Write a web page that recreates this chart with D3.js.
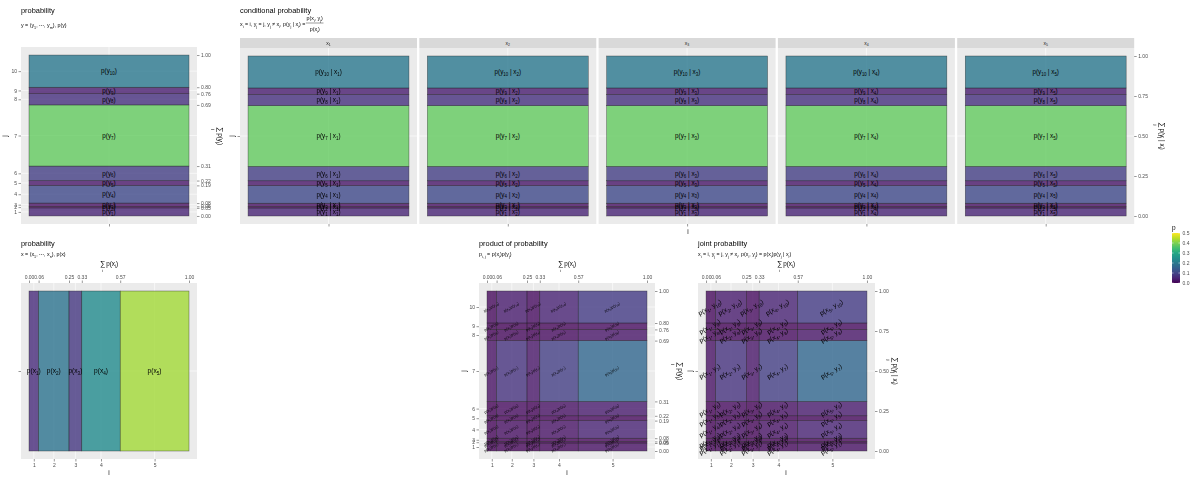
<!DOCTYPE html>
<html lang="en">
<head>
<meta charset="UTF-8" />
<title>probability decomposition</title>
<style>
  body { margin: 0; background: #fff; }
  svg { opacity: 0.999; }
  svg text { font-family: "Liberation Sans", Arial, sans-serif; }
</style>
</head>
<body>
<svg width="1200" height="480" xmlns="http://www.w3.org/2000/svg"></svg>
<script src="https://cdn.jsdelivr.net/npm/d3@7"></script>
<script>
// marginal p(x_i) and p(y_j)
const px = [0.06, 0.19, 0.08, 0.24, 0.43];
const py = [0.05, 0.01, 0.02, 0.11, 0.03, 0.09, 0.38, 0.07, 0.04, 0.20];
// p(y_j | x_i), one row for each x_i (all facets look the same)
const pyGivenX = [
  [0.05, 0.01, 0.02, 0.11, 0.03, 0.09, 0.38, 0.07, 0.04, 0.20],
  [0.05, 0.01, 0.02, 0.11, 0.03, 0.09, 0.38, 0.07, 0.04, 0.20],
  [0.05, 0.01, 0.02, 0.11, 0.03, 0.09, 0.38, 0.07, 0.04, 0.20],
  [0.05, 0.01, 0.02, 0.11, 0.03, 0.09, 0.38, 0.07, 0.04, 0.20],
  [0.05, 0.01, 0.02, 0.11, 0.03, 0.09, 0.38, 0.07, 0.04, 0.20]
];
const iLabels = ["1", "2", "3", "4", "5"];
const jLabels = ["1", "2", "3", "4", "5", "6", "7", "8", "9", "10"];
const condTicks = [0, 0.25, 0.5, 0.75, 1];
const legendTicks = [0, 0.1, 0.2, 0.3, 0.4, 0.5];

const svg = d3.select("svg");
const color = d3.scaleSequential(d3.interpolateViridis).domain([0, 0.5]);
const INK = "#000";

const cumX = Array.from(d3.cumsum(px));
const cumY = Array.from(d3.cumsum(py));
const xCols = px.map((p, i) => ({ i, a: cumX[i] - p, b: cumX[i], p }));
const yRows = py.map((p, j) => ({ j, a: cumY[j] - p, b: cumY[j], p }));
const xMid = xCols.map(d => (d.a + d.b) / 2);
const yMid = yRows.map(d => (d.a + d.b) / 2);
const xEdges = [0, ...cumX];
const yEdges = [0, ...cumY];

// text with _{sub} parts
function rich(text, str, size) {
  const parts = str.split(/(_\{[^}]*\})/).filter(s => s.length);
  let down = false;
  parts.forEach(s => {
    if (s.startsWith("_{")) {
      text.append("tspan").attr("font-size", size * 0.7).attr("dy", down ? 0 : size * 0.3).text(s.slice(2, -1));
      down = true;
    } else {
      text.append("tspan").attr("font-size", size).attr("dy", down ? -size * 0.3 : 0).text(s);
      down = false;
    }
  });
  return text;
}

function label(x, y, str, size, opts = {}) {
  const t = svg.append("text")
    .attr("x", x).attr("y", y)
    .attr("font-size", size)
    .attr("fill", opts.fill || INK)
    .attr("text-anchor", opts.anchor || "start");
  if (opts.rotate) t.attr("transform", `rotate(${opts.rotate},${x},${y})`);
  return rich(t, str, size);
}

function sumTitle(cx, cy, idx, rest, angle, size) {
  const outer = svg.append("g").attr("transform", `translate(${cx},${cy}) rotate(${angle})`);
  const inner = outer.append("g");
  const sig = inner.append("text").attr("font-size", size * 1.2).attr("fill", INK).text("∑");
  const sw = sig.node().getComputedTextLength();
  inner.append("text").attr("x", sw / 2).attr("y", size * 0.8)
    .attr("text-anchor", "middle").attr("font-size", size * 0.65).attr("fill", INK).text(idx);
  const t = inner.append("text").attr("x", sw + size * 0.15).attr("font-size", size).attr("fill", INK);
  rich(t, rest, size);
  const bb = inner.node().getBBox();
  inner.attr("transform", `translate(${-bb.x - bb.width / 2},${-bb.y - bb.height / 2})`);
}

function makePanel(l, r, t, b) {
  const g = svg.append("g");
  g.append("rect").attr("x", l).attr("y", t).attr("width", r - l).attr("height", b - t).attr("fill", "#ebebeb");
  const x = d3.scaleLinear().domain([-0.05, 1.05]).range([l, r]);
  const y = d3.scaleLinear().domain([-0.05, 1.05]).range([b, t]);
  return { g, x, y, l, r, t, b };
}

function grid(p, xv, yv) {
  p.g.selectAll(".gx").data(xv).join("line")
    .attr("x1", d => p.x(d)).attr("x2", d => p.x(d)).attr("y1", p.t).attr("y2", p.b)
    .attr("stroke", "#fff").attr("stroke-width", 0.6);
  p.g.selectAll(".gy").data(yv).join("line")
    .attr("y1", d => p.y(d)).attr("y2", d => p.y(d)).attr("x1", p.l).attr("x2", p.r)
    .attr("stroke", "#fff").attr("stroke-width", 0.6);
}

function cells(p, data) {
  p.g.append("g").selectAll("rect").data(data).join("rect")
    .attr("x", d => p.x(d.x0)).attr("width", d => p.x(d.x1) - p.x(d.x0))
    .attr("y", d => p.y(d.y1)).attr("height", d => p.y(d.y0) - p.y(d.y1))
    .attr("fill", d => color(d.p)).attr("fill-opacity", 0.8)
    .attr("stroke", "#222").attr("stroke-opacity", 0.7).attr("stroke-width", 0.5);
}

function cellLabels(p, data, size, angle) {
  data.forEach(d => {
    label(p.x((d.x0 + d.x1) / 2), p.y((d.y0 + d.y1) / 2) + size * 0.35, d.label, size,
      { anchor: "middle", rotate: angle });
  });
}

function styleAxis(g) {
  g.attr("font-size", null).attr("font-family", null);
  g.select(".domain").remove();
  g.selectAll(".tick line").attr("stroke", "#333").attr("stroke-width", 0.5);
  g.selectAll(".tick text").attr("fill", "#4d4d4d").attr("font-size", 5);
}

function axis(gen, tx, ty) {
  svg.append("g").attr("transform", `translate(${tx},${ty})`).call(gen).call(styleAxis);
}

const f2 = d3.format(".2f");

// ---------- p(y) ----------
{
  const p = makePanel(21, 197, 47, 224);
  grid(p, [0.5], yMid);
  const data = yRows.map(r => ({ x0: 0, x1: 1, y0: r.a, y1: r.b, p: r.p, label: `p(y_{${r.j + 1}})` }));
  cells(p, data);
  cellLabels(p, data, 6.3, 0);
  axis(d3.axisLeft(p.y).tickValues(yMid).tickFormat((d, k) => jLabels[k]).tickSize(2.5).tickPadding(1.5), p.l, 0);
  axis(d3.axisRight(p.y).tickValues(yEdges).tickFormat(f2).tickSize(2.5).tickPadding(1.5), p.r, 0);
  axis(d3.axisBottom(p.x).tickValues([0.5]).tickFormat("").tickSize(2.5), 0, p.b);
  label(7, 136, "j", 6.5, { anchor: "middle", rotate: -90 });
  sumTitle(218, 136, "j", "p(y_{j})", 90, 6.3);
  label(21, 12.5, "probability", 7.4);
  label(21, 27, "y = (y_{1}, ⋯, y_{m}), p(y)", 5.3);
}

// ---------- p(y | x) facets ----------
{
  const step = 179.3, w = 177;
  pyGivenX.forEach((row, i) => {
    const l = 240 + i * step;
    svg.append("rect").attr("x", l).attr("y", 38).attr("width", w).attr("height", 10).attr("fill", "#d9d9d9");
    label(l + w / 2, 44.5, `x_{${i + 1}}`, 5, { anchor: "middle", fill: "#1a1a1a" });
    const p = makePanel(l, l + w, 48, 224);
    grid(p, [0.5], [0.5]);
    const cum = Array.from(d3.cumsum(row));
    const data = row.map((v, j) => ({
      x0: 0, x1: 1, y0: cum[j] - v, y1: cum[j], p: v, label: `p(y_{${j + 1}} | x_{${i + 1}})`
    }));
    cells(p, data);
    cellLabels(p, data, 6.3, 0);
    axis(d3.axisBottom(p.x).tickValues([0.5]).tickFormat("").tickSize(2.5), 0, p.b);
    if (i === 0) axis(d3.axisLeft(p.y).tickValues([0.5]).tickFormat("").tickSize(2.5), p.l, 0);
    if (i === pyGivenX.length - 1)
      axis(d3.axisRight(p.y).tickValues(condTicks).tickFormat(f2).tickSize(2.5).tickPadding(1.5), p.r, 0);
  });
  label(234, 136, "j", 6.5, { anchor: "middle", rotate: -90 });
  label(688, 234, "i", 6.5, { anchor: "middle" });
  sumTitle(1160, 136, "j", "p(y_{j} | x_{i})", 90, 6.3);
  label(240, 12.5, "conditional probability", 7.4);
  const main = label(240, 26, "x_{i} = i, y_{j} = j, y_{j} ≠ x_{i}, p(y_{j} | x_{i}) = ", 5.3);
  const bb = main.node().getBBox();
  const num = label(0, 20, "p(x_{i}, y_{j})", 5.3, { anchor: "middle" });
  const nw = num.node().getBBox().width;
  const fc = bb.x + bb.width + nw / 2 + 1;
  num.attr("x", fc);
  label(fc, 31, "p(x_{i})", 5.3, { anchor: "middle" });
  svg.append("line").attr("x1", fc - nw / 2 - 0.5).attr("x2", fc + nw / 2 + 0.5)
    .attr("y1", 23).attr("y2", 23).attr("stroke", INK).attr("stroke-width", 0.4);
}

// ---------- p(x) ----------
{
  const p = makePanel(21, 197, 283, 459);
  grid(p, xMid, [0.5]);
  const data = xCols.map(c => ({ x0: c.a, x1: c.b, y0: 0, y1: 1, p: c.p, label: `p(x_{${c.i + 1}})` }));
  cells(p, data);
  cellLabels(p, data, 6.6, 0);
  axis(d3.axisBottom(p.x).tickValues(xMid).tickFormat((d, k) => iLabels[k]).tickSize(2.5).tickPadding(1.5), 0, p.b);
  axis(d3.axisTop(p.x).tickValues(xEdges).tickFormat(f2).tickSize(2.5).tickPadding(1.5), 0, p.t);
  axis(d3.axisLeft(p.y).tickValues([0.5]).tickFormat("").tickSize(2.5), p.l, 0);
  label(109, 474.5, "i", 6.5, { anchor: "middle" });
  sumTitle(109, 266, "i", "p(x_{i})", 0, 6.3);
  label(21, 245.5, "probability", 7.4);
  label(21, 256, "x = (x_{1}, ⋯, x_{n}), p(x)", 5.3);
}

// ---------- p(x) p(y) ----------
{
  const p = makePanel(479, 655, 283, 459);
  grid(p, xMid, yMid);
  const data = [];
  xCols.forEach(c => yRows.forEach(r => data.push({
    x0: c.a, x1: c.b, y0: r.a, y1: r.b, p: c.p * r.p,
    label: `p(x_{${c.i + 1}})p(y_{${r.j + 1}})`
  })));
  cells(p, data);
  cellLabels(p, data, 3.7, -30);
  axis(d3.axisBottom(p.x).tickValues(xMid).tickFormat((d, k) => iLabels[k]).tickSize(2.5).tickPadding(1.5), 0, p.b);
  axis(d3.axisTop(p.x).tickValues(xEdges).tickFormat(f2).tickSize(2.5).tickPadding(1.5), 0, p.t);
  axis(d3.axisLeft(p.y).tickValues(yMid).tickFormat((d, k) => jLabels[k]).tickSize(2.5).tickPadding(1.5), p.l, 0);
  axis(d3.axisRight(p.y).tickValues(yEdges).tickFormat(f2).tickSize(2.5).tickPadding(1.5), p.r, 0);
  label(466, 371, "j", 6.5, { anchor: "middle", rotate: -90 });
  label(567, 474.5, "i", 6.5, { anchor: "middle" });
  sumTitle(567, 266, "i", "p(x_{i})", 0, 6.3);
  sumTitle(678, 371, "j", "p(y_{j})", 90, 6.3);
  label(479, 245.5, "product of probability", 7.4);
  label(479, 256, "p_{i, j} = p(x_{i})p(y_{j})", 5.3);
}

// ---------- p(x, y) ----------
{
  const p = makePanel(698, 875, 283, 459);
  grid(p, xMid, [0.5]);
  const data = [];
  xCols.forEach(c => {
    const row = pyGivenX[c.i];
    const cum = Array.from(d3.cumsum(row));
    row.forEach((v, j) => data.push({
      x0: c.a, x1: c.b, y0: cum[j] - v, y1: cum[j], p: c.p * v,
      label: `p(x_{${c.i + 1}}, y_{${j + 1}})`
    }));
  });
  cells(p, data);
  cellLabels(p, data, 6.5, -30);
  axis(d3.axisBottom(p.x).tickValues(xMid).tickFormat((d, k) => iLabels[k]).tickSize(2.5).tickPadding(1.5), 0, p.b);
  axis(d3.axisTop(p.x).tickValues(xEdges).tickFormat(f2).tickSize(2.5).tickPadding(1.5), 0, p.t);
  axis(d3.axisLeft(p.y).tickValues([0.5]).tickFormat("").tickSize(2.5), p.l, 0);
  axis(d3.axisRight(p.y).tickValues(condTicks).tickFormat(f2).tickSize(2.5).tickPadding(1.5), p.r, 0);
  label(692, 371, "j", 6.5, { anchor: "middle", rotate: -90 });
  label(786, 474.5, "i", 6.5, { anchor: "middle" });
  sumTitle(786, 266, "i", "p(x_{i})", 0, 6.3);
  sumTitle(893, 371, "j", "p(y_{j} | x_{i})", 90, 6.3);
  label(698, 245.5, "joint probability", 7.4);
  label(698, 256, "x_{i} = i, y_{j} = j, y_{j} ≠ x_{i}, p(x_{i}, y_{j}) = p(x_{i})p(y_{j} | x_{i})", 5.3);
}

// ---------- legend ----------
{
  const lx = 1172, lt = 233, lb = 283, lw = 8;
  const ly = d3.scaleLinear().domain([0, 0.5]).range([lb, lt]);
  const grad = svg.append("defs").append("linearGradient").attr("id", "pgrad")
    .attr("x1", 0).attr("x2", 0).attr("y1", 1).attr("y2", 0);
  d3.range(0, 1.0001, 0.1).forEach(t => {
    grad.append("stop").attr("offset", t).attr("stop-color", color(t * 0.5));
  });
  svg.append("rect").attr("x", lx).attr("y", lt).attr("width", lw).attr("height", lb - lt).attr("fill", "url(#pgrad)");
  legendTicks.forEach(v => {
    svg.append("line").attr("x1", lx).attr("x2", lx + 1.6).attr("y1", ly(v)).attr("y2", ly(v)).attr("stroke", "#fff").attr("stroke-width", 0.5);
    svg.append("line").attr("x1", lx + lw - 1.6).attr("x2", lx + lw).attr("y1", ly(v)).attr("y2", ly(v)).attr("stroke", "#fff").attr("stroke-width", 0.5);
  });
  const axisG = svg.append("g").attr("transform", `translate(${lx + lw},0)`)
    .call(d3.axisRight(ly).tickValues(legendTicks).tickFormat(d3.format(".1f")).tickSize(0).tickPadding(2.5));
  styleAxis(axisG);
  label(lx, lt - 3.5, "p", 6.5);
}
</script>
</body>
</html>
